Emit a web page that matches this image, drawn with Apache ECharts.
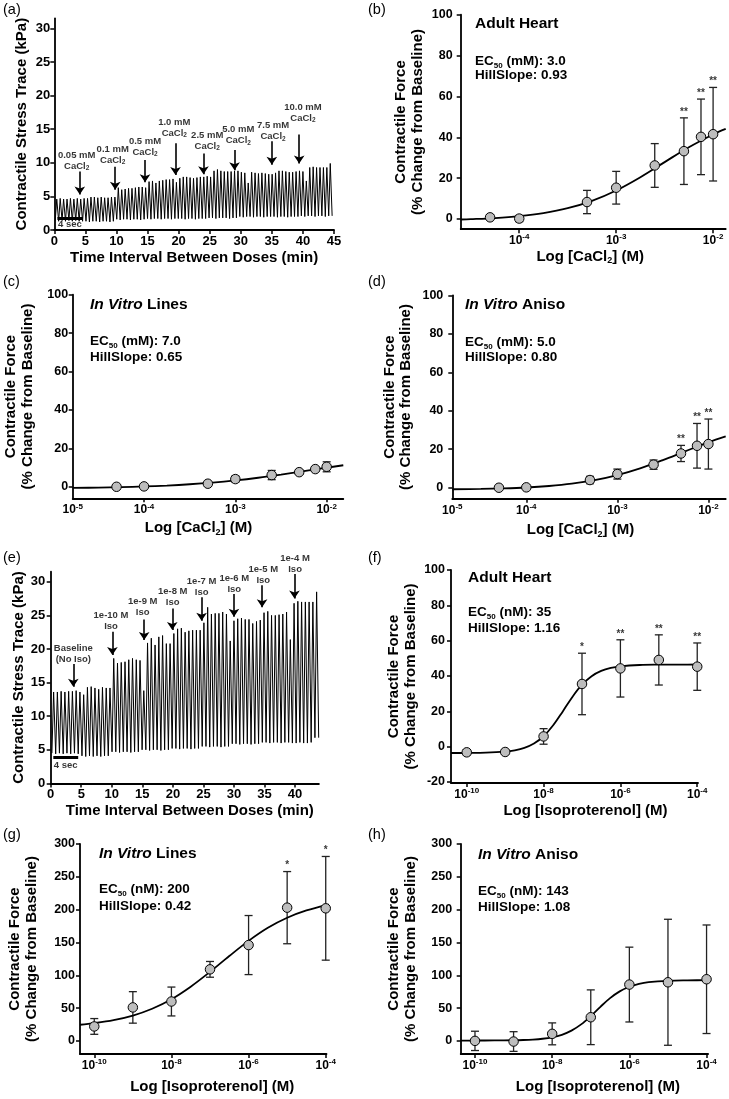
<!DOCTYPE html>
<html><head><meta charset="utf-8">
<script src="https://cdn.jsdelivr.net/npm/echarts@6/dist/echarts.min.js"></script>
<style>html,body{margin:0;padding:0;background:#fff}#c{width:729px;height:1099px}</style>
</head><body><div id="c"></div><script>
const FONT = '"Liberation Sans", Arial, Helvetica, sans-serif';

// ---------- (a) CaCl2 stress trace (kPa per beat) ----------
const traceAPeaks = [
  4.6,4.7,4.6,4.6,4.7,4.6,4.7,4.6,4.7,
  4.7,4.9,4.9,4.8,4.9,4.8,4.8,4.9,4.9,
  6.3,6.0,6.1,6.2,6.2,6.3,6.4,6.4,6.3,
  7.2,7.3,7.0,7.3,7.4,7.5,7.5,7.6,7.1,
  7.7,7.9,7.9,7.8,7.7,7.8,7.9,7.9,8.0,
  7.9,8.8,9.0,8.8,8.7,8.7,8.7,8.8,8.8,
  8.6,8.5,7.0,8.6,8.5,8.4,8.5,8.4,8.3,
  8.3,8.5,8.8,8.8,8.7,8.6,8.6,8.7,8.8,
  8.7,7.3,9.3,9.4,9.3,9.3,9.3,9.3,9.9];
const traceATroughs = [
  1.4,1.3,1.4,1.3,1.4,1.3,1.4,1.3,1.3,
  1.3,1.2,1.3,1.3,1.2,1.3,1.3,1.2,1.3,
  1.6,1.5,1.6,1.6,1.5,1.6,1.6,1.5,1.6,
  1.7,1.6,1.7,1.7,1.6,1.7,1.7,1.6,1.7,
  1.7,1.7,1.6,1.7,1.7,1.6,1.7,1.7,1.7,
  1.8,1.8,1.7,1.8,1.8,1.8,1.7,1.8,1.8,
  2.0,1.9,2.0,2.0,1.9,2.0,2.0,1.9,2.0,
  2.0,2.0,1.9,2.0,2.0,1.9,2.0,2.0,2.0,
  2.1,2.0,2.1,2.1,2.0,2.1,2.1,2.0,2.1];
const traceABeatStart = 0.15, traceABeatPeriod = 0.55;
const xTicksA = [0,5,10,15,20,25,30,35,40,45];
const yTicksTrace = [0,5,10,15,20,25,30];
const doseLine1A = ['0.05 mM','0.1 mM','0.5 mM','1.0 mM','2.5 mM','5.0 mM','7.5 mM','10.0 mM'];
const doseLabelTA = [3.6, 9.4, 14.6, 19.3, 24.6, 29.6, 35.2, 40.0];
const doseLabelYA = [10.3, 11.2, 12.35, 15.15, 13.3, 14.1, 14.7, 17.45];
const arrowTA = [4.1, 9.8, 14.6, 19.5, 24.0, 29.0, 35.0, 39.4];
const arrowTopA = [8.7, 9.4, 10.4, 12.9, 11.4, 11.9, 13.2, 14.2];
const arrowTipA = [5.3, 6.0, 7.1, 8.2, 8.3, 8.9, 9.7, 9.9];

// ---------- (e) Isoproterenol stress trace ----------
const traceEPeaks = [
  13.6,13.6,13.7,13.6,13.7,13.7,13.8,13.6,
  13.2,14.3,14.4,14.2,14.0,14.3,14.2,14.2,
  18.6,17.9,18.0,18.1,18.4,18.6,18.4,18.3,
  13.8,20.9,21.6,20.6,21.8,22.0,20.8,20.8,
  22.3,23.0,23.1,22.5,22.7,22.8,22.8,22.8,
  23.9,26.2,25.2,25.3,25.3,25.5,25.2,21.2,
  24.2,24.5,24.6,24.4,24.4,23.8,24.1,24.3,
  25.4,25.6,25.0,25.0,25.1,25.2,25.5,21.4,
  26.8,27.1,27.0,27.0,27.0,27.0,28.5];
const traceETroughs = [
  4.5,4.4,4.5,4.4,4.5,4.4,4.5,4.4,
  4.1,4.0,4.1,4.0,4.1,4.0,4.1,4.1,
  4.7,4.7,4.6,4.7,4.7,4.6,4.7,4.7,
  5.0,5.0,4.9,5.0,5.0,4.9,5.0,5.0,
  5.2,5.2,5.1,5.2,5.2,5.1,5.2,5.2,
  5.5,5.5,5.4,5.5,5.5,5.4,5.5,5.5,
  5.9,5.9,5.8,5.9,5.9,5.8,5.9,5.9,
  6.1,6.1,6.0,6.1,6.1,6.0,6.1,6.1,
  6.0,6.0,6.1,6.0,6.0,6.1,6.8];
const traceEBeatStart = 0.2, traceEBeatPeriod = 0.615;
const xTicksE = [0,5,10,15,20,25,30,35,40];
const doseLine1E = ['Baseline','1e-10 M','1e-9 M','1e-8 M','1e-7 M','1e-6 M','1e-5 M','1e-4 M'];
const doseLine2E = ['(No Iso)','Iso','Iso','Iso','Iso','Iso','Iso','Iso'];
const doseLabelTE = [3.7, 9.87, 15.06, 19.97, 24.7, 30.05, 34.8, 40.0];
const doseLabelYE = [19.27, 24.2, 26.2, 27.8, 29.26, 29.7, 31.0, 32.6];
const arrowTE = [3.7, 10.1, 15.3, 19.9, 24.7, 30.0, 34.6, 39.9];
const arrowTopE = [17.76, 22.57, 24.4, 26.04, 27.68, 28.17, 29.5, 31.14];
const arrowTipE = [14.38, 19.09, 21.33, 22.81, 24.2, 24.8, 26.2, 27.5];

// ---------- dose-response data ----------
const caDoses = [5e-5, 1e-4, 5e-4, 1e-3, 2.5e-3, 5e-3, 7.5e-3, 1e-2];
const isoDoses = [1e-10, 1e-9, 1e-8, 1e-7, 1e-6, 1e-5, 1e-4];

const meanB = [0.8, 0.2, 8.3, 15.3, 26.2, 33.2, 40.2, 41.5];
const errB  = [1.2, 1.5, 5.7, 8.0, 10.7, 16.3, 18.5, 22.9];
const starsB = ['','','','','','**','**','**'];
const curveLogB = [-4.604,-4.5,-4.25,-4.0,-3.75,-3.5,-3.25,-3.0,-2.75,-2.5,-2.25,-2.0,-1.87];
const curveB    = [-0.26,-0.10,0.46,1.38,2.88,5.27,8.87,13.96,20.46,27.84,35.13,41.39,44.09];

const meanC = [0.0, 0.2, 1.6, 4.0, 6.1, 7.6, 9.2, 10.4];
const errC  = [0.5, 0.5, 0.6, 1.6, 2.4, 1.0, 1.0, 2.6];
const starsC = ['','','','','','','',''];
const curveLogC = [-4.781,-4.5,-4.25,-4.0,-3.75,-3.5,-3.25,-3.0,-2.75,-2.5,-2.25,-2.0,-1.818];
const curveC    = [-0.62,-0.43,-0.18,0.17,0.65,1.31,2.19,3.32,4.70,6.33,8.10,9.92,11.21];

const meanD = [0.0, 0.2, 4.0, 7.1, 12.0, 17.8, 21.8, 22.7];
const errD  = [0.5, 0.6, 1.9, 2.6, 2.4, 4.2, 11.6, 13.0];
const starsD = ['','','','','','**','**','**'];
const curveLogD = [-4.813,-4.5,-4.25,-4.0,-3.75,-3.5,-3.25,-3.0,-2.75,-2.5,-2.25,-2.0,-1.81];
const curveD    = [-0.80,-0.62,-0.35,0.11,0.91,2.14,3.98,6.60,10.09,14.36,19.03,23.59,26.68];

const meanF = [-3.2, -3.0, 5.8, 35.5, 44.3, 49.1, 45.3];
const errF  = [1.5, 1.0, 4.4, 17.4, 16.2, 14.2, 13.4];
const starsF = ['','','','*','**','**','**'];
const curveLogF = [-10.41,-10,-9.5,-9,-8.75,-8.5,-8.25,-8,-7.75,-7.5,-7.25,-7,-6.75,-6.5,-6.25,-6,-5.5,-5,-4.5,-4,-3.72];
const curveF    = [-3.58,-3.54,-3.39,-2.80,-2.07,-0.70,1.76,5.89,12.09,19.98,28.17,35.06,39.90,42.88,44.58,45.50,46.23,46.43,46.48,46.50,46.50];

const meanG = [22, 51, 60, 109, 146, 203, 202];
const errG  = [12, 24, 22, 12, 45, 55, 79];
const starsG = ['','','','','','*','*'];
const curveLogG = [-10.37,-10,-9.5,-9,-8.5,-8,-7.5,-7,-6.5,-6,-5.5,-5,-4.5,-4,-3.67];
const curveG    = [24.6,27.0,31.6,38.6,49.0,63.5,82.6,105.1,129.3,152.4,172.3,187.6,198.7,206.5,210.0];

const meanH = [0, -1, 10.7, 36, 85.8, 89.3, 93.9];
const errH  = [14.7, 15, 16.7, 41.7, 57, 96, 82.7];
const starsH = ['','','','','','',''];
const curveLogH = [-10.37,-10,-9.5,-9,-8.75,-8.5,-8.25,-8,-7.75,-7.5,-7.25,-7,-6.75,-6.5,-6.25,-6,-5.75,-5.5,-5,-4.5,-4,-3.74];
const curveH    = [0.51,0.54,0.63,0.93,1.30,1.98,3.21,5.43,9.27,15.59,25.12,37.74,51.90,65.10,75.43,82.50,86.83,89.37,91.57,92.23,92.44,92.47];

// ---------- chart assembly ----------
const opt = {animation:false, backgroundColor:'#fff', textStyle:{fontFamily:FONT},
  title:[], grid:[], xAxis:[], yAxis:[], series:[]};

const yNameCF = 'Contractile Force\n(% Change from Baseline)';
const nameRich = {sub:{fontSize:9, lineHeight:7, verticalAlign:'bottom', fontWeight:'bold', fontFamily:FONT, color:'#000'}};

function addPanel(p){
  const gi = opt.grid.length;
  opt.grid.push({left:p.left, top:p.top, width:p.width, height:p.height, containLabel:false, outerBoundsMode:'none'});
  const isLog = !!p.xExp;
  const xLabelVals = p.xLabels || p.xTicks;
  opt.xAxis.push({
    type:'value', gridIndex:gi, min:p.xMin, max:p.xMax,
    axisLine:{show:true, onZero:false, lineStyle:{color:'#000', width:1.8}},
    axisTick:{show:true, length:4, customValues:p.xTicks, lineStyle:{color:'#000', width:1.5}},
    splitLine:{show:false},
    axisLabel:{show:true, customValues:xLabelVals, margin:p.xLabelMargin, color:'#000', fontFamily:FONT, fontWeight:'bold',
      fontSize: isLog ? 12 : 13,
      formatter: isLog ? function(v){ const i = xLabelVals.findIndex(u => Math.abs(u - v) < 1e-6); return '{b|10}{sup|' + p.xExp[i] + '}'; } : function(v){ return String(v); },
      rich: isLog ? {b:{fontSize:12, fontWeight:'bold', fontFamily:FONT, color:'#000', lineHeight:15},
                     sup:{fontSize:8, fontWeight:'bold', fontFamily:FONT, color:'#000', lineHeight:9, verticalAlign:'top'}} : undefined},
    name:p.xName, nameLocation:'middle', nameGap:p.xNameGap,
    nameTextStyle:{color:'#000', fontFamily:FONT, fontWeight:'bold', fontSize:15, lineHeight:17, padding:p.xNamePad || 0, rich:nameRich}
  });
  opt.yAxis.push({
    type:'value', gridIndex:gi, min:p.yMin, max:p.yMax,
    axisLine:{show:true, onZero:false, lineStyle:{color:'#000', width:1.8}},
    axisTick:{show:true, length:4, customValues:p.yTicks, lineStyle:{color:'#000', width:1.5}},
    splitLine:{show:false},
    axisLabel:{show:true, customValues:p.yTicks, margin:p.yLabelMargin, color:'#000', fontFamily:FONT, fontWeight:'bold', fontSize:p.yLabelSize || 12.5},
    name:p.yName, nameLocation:'middle', nameGap:p.yNameGap,
    nameTextStyle:{color:'#000', fontFamily:FONT, fontWeight:'bold', fontSize:15, lineHeight:16.5, align:'center'}
  });
  return gi;
}

function addTitle(text, left, cy, size, weight){
  const lh = Math.round(size * 1.25);
  opt.title.push({text:text, left:left, top:cy - lh/2, padding:0,
    textStyle:{color:'#000', fontFamily:FONT, fontWeight:weight || 'bold', fontSize:size, lineHeight:lh,
      rich:{
        i:{fontStyle:'italic', fontWeight:'bold', fontFamily:FONT, fontSize:size, color:'#000', lineHeight:lh},
        sub:{fontSize:8, fontWeight:'bold', fontFamily:FONT, color:'#000', lineHeight:6, verticalAlign:'bottom'}
      }}});
}

function errRender(params, api){
  const x = api.value(0), lo = api.value(1), hi = api.value(2);
  const a = api.coord([x, hi]), b = api.coord([x, lo]);
  const w = 4, st = {stroke:'#222', lineWidth:1.3};
  return {type:'group', children:[
    {type:'line', shape:{x1:a[0], y1:a[1], x2:b[0], y2:b[1]}, style:st},
    {type:'line', shape:{x1:a[0]-w, y1:a[1], x2:a[0]+w, y2:a[1]}, style:st},
    {type:'line', shape:{x1:b[0]-w, y1:b[1], x2:b[0]+w, y2:b[1]}, style:st}]};
}

function addDoseResponse(gi, doses, mean, err, stars, cLog, cVal){
  const lx = doses.map(d => Math.log10(d));
  opt.series.push({type:'custom', xAxisIndex:gi, yAxisIndex:gi, renderItem:errRender, z:2, silent:true,
    encode:{x:0, y:[1,2]}, data: lx.map((x,i) => [x, mean[i]-err[i], mean[i]+err[i]])});
  opt.series.push({type:'line', xAxisIndex:gi, yAxisIndex:gi, showSymbol:false, smooth:0.35,
    clip:false, z:3, silent:true, lineStyle:{color:'#000', width:1.8},
    data: cLog.map((x,i) => [x, cVal[i]])});
  opt.series.push({type:'scatter', xAxisIndex:gi, yAxisIndex:gi, symbol:'circle', symbolSize:9.5, z:4, silent:true,
    itemStyle:{color:'#bdbdbd', borderColor:'#000', borderWidth:1, opacity:1},
    data: lx.map((x,i) => [x, mean[i]])});
  const sd = [];
  lx.forEach((x,i) => { if (stars[i]) sd.push([x, mean[i]+err[i], stars[i]]); });
  if (sd.length) opt.series.push({type:'scatter', xAxisIndex:gi, yAxisIndex:gi, symbolSize:0, clip:false, z:5, silent:true,
    itemStyle:{color:'transparent'},
    label:{show:true, position:'top', distance:1, formatter:q => q.data[2], color:'#000', fontFamily:FONT, fontWeight:'bold', fontSize:10},
    data:sd});
}

function traceData(peaks, troughs, start, period){
  const d = [];
  for (let i = 0; i < peaks.length; i++){
    const t0 = start + i*period;
    d.push([t0, troughs[i]]);
    d.push([t0 + period*0.45, peaks[i]]);
  }
  d.push([start + peaks.length*period, troughs[troughs.length-1]]);
  return d;
}

function addTrace(gi, peaks, troughs, start, period, labT, labY, labText, arT, arTop, arTip, bar, barLabel){
  opt.series.push({type:'line', xAxisIndex:gi, yAxisIndex:gi, showSymbol:false, silent:true, z:2,
    lineStyle:{color:'#000', width:1}, data:traceData(peaks, troughs, start, period)});
  opt.series.push({type:'lines', coordinateSystem:'cartesian2d', xAxisIndex:gi, yAxisIndex:gi, silent:true, z:4,
    symbol:['none','arrow'], symbolSize:8, lineStyle:{color:'#000', width:1.6, opacity:1},
    data: arT.map((t,i) => ({coords:[[t, arTop[i]], [t, arTip[i]]]}))});
  opt.series.push({type:'lines', coordinateSystem:'cartesian2d', xAxisIndex:gi, yAxisIndex:gi, silent:true, z:4,
    symbol:['none','none'], lineStyle:{color:'#000', width:3, opacity:1},
    data:[{coords:[[bar[0], bar[2]], [bar[1], bar[2]]]}]});
  const lab = labT.map((t,i) => [t, labY[i], labText[i]]);
  lab.push([barLabel[0], barLabel[1], '4 sec']);
  opt.series.push({type:'scatter', xAxisIndex:gi, yAxisIndex:gi, symbolSize:0, clip:false, silent:true, z:5,
    itemStyle:{color:'transparent'},
    label:{show:true, position:'inside', formatter:q => q.data[2], color:'#000', fontFamily:FONT, fontWeight:'bold',
      fontSize:9.5, lineHeight:11,
      rich:{s:{fontSize:6.5, lineHeight:5, verticalAlign:'bottom', fontWeight:'bold', fontFamily:FONT, color:'#000'}}},
    data:lab});
}

// (a)
const gA = addPanel({left:54.3, top:18.3, width:279.7, height:211.7, xMin:0, xMax:45, yMin:0, yMax:31.5,
  xTicks:xTicksA, yTicks:yTicksTrace, yLabelSize:13, xLabelMargin:5, yLabelMargin:4,
  xName:'Time Interval Between Doses (min)', xNameGap:19.5, yName:'Contractile Stress Trace (kPa)', yNameGap:24});
addTrace(gA, traceAPeaks, traceATroughs, traceABeatStart, traceABeatPeriod,
  doseLabelTA, doseLabelYA, doseLine1A.map(s => s + '\nCaCl{s|2}'),
  arrowTA, arrowTopA, arrowTipA, [0.5, 4.6, 1.8], [2.5, 0.85]);

// (b)
const gB = addPanel({left:460.7, top:14.7, width:265, height:214.5, xMin:-4.604, xMax:-1.87, yMin:-5, yMax:100,
  xTicks:[-4,-3,-2], xExp:['-4','-3','-2'], yTicks:[0,20,40,60,80,100], xLabelMargin:4, yLabelMargin:8,
  xName:'Log [CaCl{sub|2}] (M)', xNameGap:19, xNamePad:[0,6,0,0], yName:yNameCF, yNameGap:35});
addDoseResponse(gB, caDoses, meanB, errB, starsB, curveLogB, curveB);

// (c)
const gC = addPanel({left:72.7, top:294.7, width:270.6, height:203.6, xMin:-4.781, xMax:-1.818, yMin:-6, yMax:100,
  xTicks:[-4,-3,-2], xLabels:[-4.781,-4,-3,-2], xExp:['-5','-4','-3','-2'], yTicks:[0,20,40,60,80,100],
  xLabelMargin:4, yLabelMargin:4.5,
  xName:'Log [CaCl{sub|2}] (M)', xNameGap:21.5, xNamePad:[0,19,0,0], yName:yNameCF, yNameGap:37});
addDoseResponse(gC, caDoses, meanC, errC, starsC, curveLogC, curveC);

// (d)
const gD = addPanel({left:452.3, top:295.3, width:273.4, height:203.4, xMin:-4.813, xMax:-1.81, yMin:-5.7, yMax:100,
  xTicks:[-4,-3,-2], xLabels:[-4.813,-4,-3,-2], xExp:['-5','-4','-3','-2'], yTicks:[0,20,40,60,80,100],
  xLabelMargin:4, yLabelMargin:9,
  xName:'Log [CaCl{sub|2}] (M)', xNameGap:23, xNamePad:[0,17,0,0], yName:yNameCF, yNameGap:38});
addDoseResponse(gD, caDoses, meanD, errD, starsD, curveLogD, curveD);

// (e)
const gE = addPanel({left:50.7, top:571.7, width:268.2, height:211.7, xMin:0, xMax:43.9, yMin:0, yMax:31.5,
  xTicks:xTicksE, yTicks:yTicksTrace, yLabelSize:13, xLabelMargin:5, yLabelMargin:5.5,
  xName:'Time Interval Between Doses (min)', xNameGap:19, xNamePad:[0,0,0,10],
  yName:'Contractile Stress Trace (kPa)', yNameGap:21});
addTrace(gE, traceEPeaks, traceETroughs, traceEBeatStart, traceEBeatPeriod,
  doseLabelTE, doseLabelYE, doseLine1E.map((s,i) => s + '\n' + doseLine2E[i]),
  arrowTE, arrowTopE, arrowTipE, [0.43, 4.5, 3.82], [2.45, 2.74]);

// (f)
const gF = addPanel({left:451, top:570, width:247, height:212.9, xMin:-10.41, xMax:-3.98, yMin:-20.5, yMax:100,
  xTicks:[-10,-8,-6,-4], xExp:['-10','-8','-6','-4'], yTicks:[-20,0,20,40,60,80,100],
  xLabelMargin:4, yLabelMargin:6,
  xName:'Log [Isoproterenol] (M)', xNameGap:19, xNamePad:[0,0,0,22], yName:yNameCF, yNameGap:32});
addDoseResponse(gF, isoDoses, meanF, errF, starsF, curveLogF, curveF);

// (g)
const gG = addPanel({left:80, top:844, width:246.5, height:210, xMin:-10.37, xMax:-3.98, yMin:-20, yMax:300,
  xTicks:[-10,-8,-6,-4], xExp:['-10','-8','-6','-4'], yTicks:[0,50,100,150,200,250,300],
  xLabelMargin:4, yLabelMargin:5,
  xName:'Log [Isoproterenol] (M)', xNameGap:24, xNamePad:[0,0,0,18], yName:yNameCF, yNameGap:40});
addDoseResponse(gG, isoDoses, meanG, errG, starsG, curveLogG, curveG);

// (h)
const gH = addPanel({left:460.7, top:844, width:247.4, height:210, xMin:-10.37, xMax:-3.96, yMin:-20, yMax:300,
  xTicks:[-10,-8,-6,-4], xExp:['-10','-8','-6','-4'], yTicks:[0,50,100,150,200,250,300],
  xLabelMargin:4, yLabelMargin:8.5,
  xName:'Log [Isoproterenol] (M)', xNameGap:24, xNamePad:[0,0,0,27], yName:yNameCF, yNameGap:41.7});
addDoseResponse(gH, isoDoses, meanH, errH, starsH, curveLogH, curveH);

// panel letters
[['(a)',3,10],['(b)',368,10],['(c)',3,282],['(d)',368,282],['(e)',3,558],['(f)',368,558],['(g)',3,835],['(h)',368,835]]
  .forEach(a => addTitle(a[0], a[1], a[2], 14.5, 'normal'));

// in-panel annotations
addTitle('Adult Heart', 475, 23.3, 15.5);
addTitle('EC{sub|50} (mM): 3.0', 475, 61, 13.5);
addTitle('HillSlope: 0.93', 475, 75.5, 13.5);
addTitle('{i|In Vitro} Lines', 90, 305, 15.5);
addTitle('EC{sub|50} (mM): 7.0', 90, 341.7, 13.5);
addTitle('HillSlope: 0.65', 90, 357.3, 13.5);
addTitle('{i|In Vitro} Aniso', 465, 305, 15.5);
addTitle('EC{sub|50} (mM): 5.0', 465, 342, 13.5);
addTitle('HillSlope: 0.80', 465, 357.5, 13.5);
addTitle('Adult Heart', 468, 577.7, 15.5);
addTitle('EC{sub|50} (nM): 35', 468, 612.3, 13.5);
addTitle('HillSlope: 1.16', 468, 628.3, 13.5);
addTitle('{i|In Vitro} Lines', 99, 854, 15.5);
addTitle('EC{sub|50} (nM): 200', 99, 889, 13.5);
addTitle('HillSlope: 0.42', 99, 906, 13.5);
addTitle('{i|In Vitro} Aniso', 478, 855, 15.5);
addTitle('EC{sub|50} (nM): 143', 478, 891.7, 13.5);
addTitle('HillSlope: 1.08', 478, 907.3, 13.5);

const chart = echarts.init(document.getElementById('c'), null, {renderer:'canvas', width:729, height:1099});
chart.setOption(opt);
</script></body></html>
